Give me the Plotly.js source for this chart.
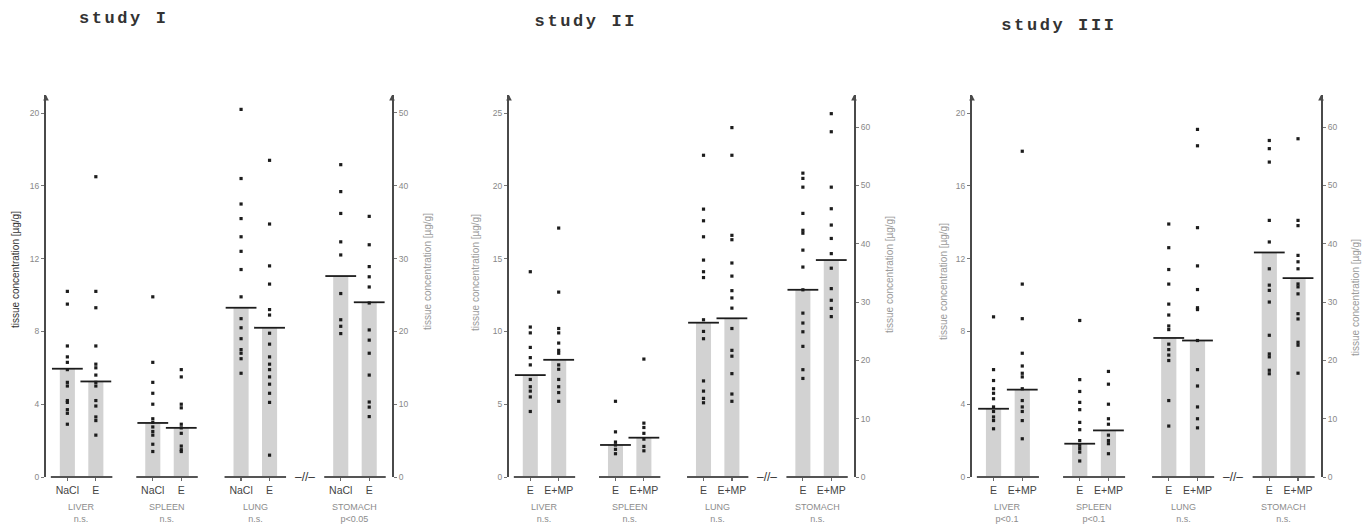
<!DOCTYPE html>
<html>
<head>
<meta charset="utf-8">
<script src="https://cdn.plot.ly/plotly-3.0.1.min.js"></script>
<style>
  html, body { margin: 0; padding: 0; background: #fff; }
  #chart { width: 1368px; height: 530px; }
  .annotation[data-index="0"] text, .annotation[data-index="1"] text, .annotation[data-index="2"] text { letter-spacing: 2.6px; }
</style>
</head>
<body>
<div id="chart"></div>
<script>
// ---------------- DATA ----------------
const studyTitles = ['study I', 'study II', 'study III'];
const organs = ['LIVER', 'SPLEEN', 'LUNG', 'STOMACH'];
const yTitle = 'tissue concentration [µg/g]';

// study I
const s1_groups = ['NaCl', 'E'];
const s1_stats = ['n.s.', 'n.s.', 'n.s.', 'p<0.05'];
const s1_means = [5.95, 5.25, 2.97, 2.7, 9.3, 8.2, 27.6, 24.0];
const s1_points = [
  [10.2, 9.5, 7.2, 6.6, 6.3, 5.9, 5.2, 5.0, 4.2, 4.1, 3.7, 3.5, 2.9],
  [16.5, 10.2, 9.3, 7.2, 6.2, 6.0, 5.6, 5.2, 5.0, 4.2, 3.9, 3.3, 3.1, 2.3],
  [9.9, 6.3, 5.2, 4.6, 4.0, 3.2, 3.0, 2.75, 2.5, 2.3, 1.8, 1.4],
  [5.9, 5.5, 4.0, 3.8, 2.9, 2.7, 2.4, 1.7, 1.5, 1.4],
  [21.0, 20.2, 16.4, 15.0, 14.2, 13.2, 12.4, 11.4, 9.9, 8.7, 8.2, 7.6, 7.0, 6.8, 6.5, 5.7],
  [17.4, 13.9, 11.6, 10.6, 9.2, 8.9, 7.9, 7.3, 6.6, 6.2, 5.9, 5.5, 5.1, 4.6, 4.1, 1.2],
  [42.9, 39.2, 36.2, 32.3, 30.5, 25.2, 21.6, 20.7, 19.7],
  [35.8, 31.9, 28.9, 27.5, 26.1, 23.9, 20.2, 18.8, 17.0, 14.0, 10.3, 9.6, 8.3]
];
const s1_leftTicks = [0, 4, 8, 12, 16, 20];
const s1_rightTicks = [0, 10, 20, 30, 40, 50];

// study II
const s2_groups = ['E', 'E+MP'];
const s2_stats = ['n.s.', 'n.s.', 'n.s.', 'n.s.'];
const s2_means = [7.0, 8.05, 2.2, 2.7, 10.6, 10.9, 32.1, 37.2];
const s2_points = [
  [14.1, 10.3, 9.9, 8.9, 8.2, 7.7, 6.7, 6.2, 5.9, 5.5, 4.5],
  [17.1, 12.7, 10.2, 9.9, 9.2, 8.7, 8.5, 7.7, 7.4, 6.7, 6.2, 5.8, 5.2],
  [5.2, 3.1, 2.4, 2.2, 1.9, 1.6],
  [8.1, 3.7, 3.4, 3.0, 2.6, 2.1, 1.8],
  [22.1, 18.4, 17.6, 16.5, 14.9, 14.1, 13.7, 10.8, 10.0, 9.5, 6.6, 5.9, 5.4, 5.1],
  [24.0, 22.1, 16.6, 16.3, 14.7, 13.8, 12.8, 12.3, 11.6, 10.2, 8.7, 8.3, 7.1, 5.7, 5.2],
  [52.1, 51.2, 49.7, 45.2, 42.3, 41.8, 38.9, 36.0, 32.1, 28.1, 26.4, 24.9, 22.4, 18.4, 16.9],
  [62.3, 59.2, 49.7, 46.0, 43.2, 40.9, 38.3, 35.8, 32.3, 30.3, 28.9, 27.5]
];
const s2_leftTicks = [0, 5, 10, 15, 20, 25];
const s2_rightTicks = [0, 10, 20, 30, 40, 50, 60];

// study III
const s3_groups = ['E', 'E+MP'];
const s3_stats = ['p<0.1', 'p<0.1', 'n.s.', 'n.s.'];
const s3_means = [3.75, 4.8, 1.83, 2.56, 7.64, 7.5, 38.5, 34.1];
const s3_points = [
  [8.8, 5.9, 5.3, 4.85, 4.6, 4.3, 3.85, 3.6, 3.3, 3.1, 2.65],
  [17.9, 10.6, 8.7, 6.8, 6.1, 5.7, 5.5, 4.85, 4.2, 3.85, 3.6, 3.1, 2.1],
  [8.6, 5.35, 4.7, 4.1, 3.7, 3.0, 2.6, 2.0, 1.74, 1.56, 1.37, 0.88],
  [5.8, 5.1, 4.0, 3.2, 2.9, 2.3, 2.0, 1.83, 1.28],
  [13.9, 12.6, 11.4, 10.6, 9.5, 8.9, 8.3, 8.1, 7.3, 7.0, 6.7, 6.4, 4.2, 2.8],
  [22.9, 19.1, 18.2, 13.7, 11.6, 10.3, 9.3, 9.2, 7.5, 5.9, 5.0, 3.85, 3.2, 2.7],
  [57.7, 56.3, 54.0, 44.0, 40.3, 35.7, 32.9, 32.0, 30.0, 24.3, 21.1, 20.6, 18.3, 17.7],
  [58.0, 44.0, 43.1, 38.0, 36.9, 35.7, 33.1, 32.6, 31.4, 28.0, 27.1, 23.1, 22.6, 17.8]
];
const s3_leftTicks = [0, 4, 8, 12, 16, 20];
const s3_rightTicks = [0, 10, 20, 30, 40, 50, 60];

// ---------------- LAYOUT HELPERS ----------------
const W = 1368, H = 530;
const px = v => v / W;
const py = v => (H - v) / H;
const groupStart = [0, 3, 6.1, 9.6];
const positions = [];
groupStart.forEach(g => { positions.push(g, g + 1); });

const studies = [
  { groups: s1_groups, stats: s1_stats, means: s1_means, pts: s1_points, lt: s1_leftTicks, rt: s1_rightTicks,
    xpx: [46, 392], lmax: 20.99, rmax: 52.47, tx: 123, ty: 19, ltitle: [15, 270, '#333'], rtitle: [427, 272, '#9a9a9a'] },
  { groups: s2_groups, stats: s2_stats, means: s2_means, pts: s2_points, lt: s2_leftTicks, rt: s2_rightTicks,
    xpx: [509, 854], lmax: 26.24, rmax: 65.5, tx: 586, ty: 22, ltitle: [475, 273, '#9a9a9a'], rtitle: [889, 275, '#9a9a9a'] },
  { groups: s3_groups, stats: s3_stats, means: s3_means, pts: s3_points, lt: s3_leftTicks, rt: s3_rightTicks,
    xpx: [972, 1321], lmax: 20.99, rmax: 65.5, tx: 1059, ty: 26, ltitle: [943, 282, '#9a9a9a'], rtitle: [1355, 298, '#9a9a9a'] }
];

const ydom = [py(477), py(95)];
const barColor = '#d2d2d2';
const inkColor = '#1c1c1c';
const axisColor = '#4a4a4a';
const fontFam = '"Liberation Sans", Arial, sans-serif';

const traces = [];
const layout = {
  width: W, height: H,
  margin: { l: 0, r: 0, t: 0, b: 0 },
  paper_bgcolor: '#fff', plot_bgcolor: 'rgba(0,0,0,0)',
  showlegend: false, barmode: 'overlay',
  font: { family: fontFam, color: '#444' },
  annotations: [], shapes: []
};

// titles first (CSS letter-spacing uses indices 0..2)
studies.forEach((s, i) => {
  layout.annotations.push({
    xref: 'paper', yref: 'paper', x: px(s.tx), y: py(s.ty), xanchor: 'center', yanchor: 'middle',
    text: studyTitles[i], showarrow: false,
    font: { family: '"Liberation Mono", "DejaVu Sans Mono", monospace', size: 17, color: '#333', weight: 'bold' }
  });
});

studies.forEach((s, i) => {
  const xn = i === 0 ? 'x' : 'x' + (i + 1);
  const yl = 'y' + (2 * i + 1 === 1 ? '' : (2 * i + 1));
  const yr = 'y' + (2 * i + 2);
  const xk = 'xaxis' + (i === 0 ? '' : (i + 1));
  const ylk = 'yaxis' + (2 * i + 1 === 1 ? '' : (2 * i + 1));
  const yrk = 'yaxis' + (2 * i + 2);
  const dom = [px(s.xpx[0]), px(s.xpx[1])];

  layout[xk] = {
    domain: dom, anchor: yl, range: [-0.75, 11.4], fixedrange: true,
    showgrid: false, zeroline: false, showline: false,
    tickmode: 'array', tickvals: positions,
    ticktext: positions.map((_, k) => s.groups[k % 2]),
    ticks: 'outside', ticklen: 3, tickwidth: 1.2, tickcolor: '#666',
    tickfont: { size: 10.5, color: '#444', family: fontFam }
  };
  layout[ylk] = {
    domain: ydom, anchor: xn, range: [0, s.lmax], fixedrange: true,
    showgrid: false, zeroline: false, showline: true, linecolor: axisColor, linewidth: 2,
    tickmode: 'array', tickvals: s.lt, ticks: 'outside', ticklen: 3, tickwidth: 1, tickcolor: '#777',
    tickfont: { size: 8.5, color: '#888', family: fontFam }
  };
  layout[yrk] = {
    domain: ydom, anchor: xn, overlaying: yl, side: 'right', range: [0, s.rmax], fixedrange: true,
    showgrid: false, zeroline: false, showline: true, linecolor: axisColor, linewidth: 2,
    tickmode: 'array', tickvals: s.rt, ticks: 'outside', ticklen: 3, tickwidth: 1, tickcolor: '#777',
    tickfont: { size: 8.5, color: '#888', family: fontFam }
  };

  const leftIdx = [0, 1, 2, 3, 4, 5], rightIdx = [6, 7];
  // bars
  [[leftIdx, yl], [rightIdx, yr]].forEach(([idx, ya]) => {
    traces.push({
      type: 'bar', xaxis: xn, yaxis: ya,
      x: idx.map(k => positions[k]), y: idx.map(k => s.means[k]),
      width: 0.53, marker: { color: barColor, line: { width: 0 } }, hoverinfo: 'skip'
    });
  });
  // individual points
  [[leftIdx, yl], [rightIdx, yr]].forEach(([idx, ya]) => {
    const xs = [], ys = [];
    idx.forEach(k => s.pts[k].forEach(v => { xs.push(positions[k]); ys.push(v); }));
    traces.push({
      type: 'scatter', mode: 'markers', xaxis: xn, yaxis: ya, x: xs, y: ys, cliponaxis: false,
      marker: { symbol: 'square', size: 3.2, color: inkColor, line: { width: 0 } }, hoverinfo: 'skip'
    });
  });
  // mean lines
  [[leftIdx, yl], [rightIdx, yr]].forEach(([idx, ya]) => {
    traces.push({
      type: 'scatter', mode: 'markers', xaxis: xn, yaxis: ya, cliponaxis: false,
      x: idx.map(k => positions[k]), y: idx.map(k => s.means[k]),
      marker: { symbol: 'line-ew', size: 22, color: inkColor, line: { width: 1.8, color: inkColor } }, hoverinfo: 'skip'
    });
  });
  // group baselines
  groupStart.forEach(g => {
    layout.shapes.push({
      type: 'line', xref: xn, yref: 'paper', x0: g - 0.58, x1: g + 1.58, y0: ydom[0], y1: ydom[0],
      line: { color: '#555', width: 2 }, layer: 'above'
    });
  });

  // axis break symbol
  layout.annotations.push({
    xref: xn, yref: 'paper', x: (groupStart[2] + 1.6 + groupStart[3] - 0.6) / 2, y: ydom[0],
    xanchor: 'center', yanchor: 'middle', text: '–//–', showarrow: false,
    font: { size: 12, color: '#333', family: fontFam }
  });
  // organ labels + significance
  groupStart.forEach((g, k) => {
    layout.annotations.push({
      xref: xn, yref: 'paper', x: g + 0.5, y: py(500), xanchor: 'center', yanchor: 'top',
      text: organs[k] + '<br>' + s.stats[k], showarrow: false,
      font: { size: 9, color: '#8c8c8c', family: fontFam }
    });
  });
  // axis titles
  layout.annotations.push({
    xref: 'paper', yref: 'paper', x: px(s.ltitle[0]), y: py(s.ltitle[1]), xanchor: 'center', yanchor: 'middle',
    text: yTitle, textangle: -90, showarrow: false, font: { size: 10, color: s.ltitle[2], family: fontFam }
  });
  layout.annotations.push({
    xref: 'paper', yref: 'paper', x: px(s.rtitle[0]), y: py(s.rtitle[1]), xanchor: 'center', yanchor: 'middle',
    text: yTitle, textangle: -90, showarrow: false, font: { size: 10, color: s.rtitle[2], family: fontFam }
  });
  // arrowheads on axis tops
  [s.xpx[0], s.xpx[1]].forEach(xp => {
    layout.annotations.push({
      xref: 'paper', yref: 'paper', x: px(xp), y: ydom[1], ax: 0, ay: 6, text: '',
      showarrow: true, arrowhead: 2, arrowsize: 0.7, arrowwidth: 1.6, arrowcolor: axisColor
    });
  });
});

Plotly.newPlot('chart', traces, layout, { staticPlot: true, displayModeBar: false });
</script>
</body>
</html>
